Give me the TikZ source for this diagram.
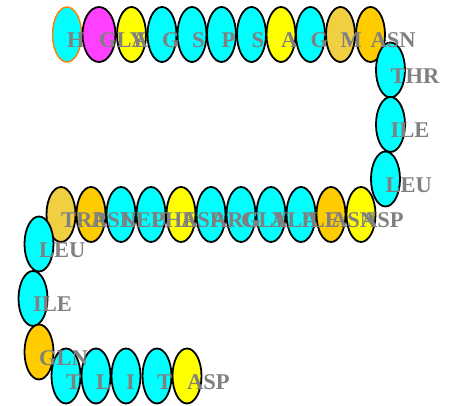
\documentclass[tikz,border=0pt]{standalone}
\usepackage{fontspec}
\setmainfont{Liberation Serif}
\usetikzlibrary{shapes.geometric}
\definecolor{rescyan}{HTML}{00FFFF}
\definecolor{resmag}{HTML}{FF40FF}
\definecolor{resyel}{HTML}{FFFF00}
\definecolor{resgold}{HTML}{FFCC00}
\definecolor{reswheat}{HTML}{F0D040}
\definecolor{resorange}{HTML}{FF8000}
\definecolor{labgray}{HTML}{808080}
\tikzset{
  res/.style={ellipse, draw=black, line width=1.8pt, minimum width=29pt, minimum height=55pt, inner sep=0pt},
  lab/.style={anchor=base west, inner sep=0pt, text=labgray, font=\fontsize{22.5}{22.5}\selectfont\bfseries},
}
\begin{document}
\begin{tikzpicture}[x=1pt,y=-1pt]
\useasboundingbox (0,0) rectangle (451,406);
% top row
\node[res, fill=rescyan, draw=resorange, line width=1.4pt] (r1) at (67,34.5) {};
\node[res, fill=resmag, minimum width=33pt] (r2) at (99,34.5) {};
\node[res, fill=resyel] (r3) at (131.5,34.5) {};
\node[res, fill=rescyan] (r4) at (162,34.5) {};
\node[res, fill=rescyan] (r5) at (192,34.5) {};
\node[res, fill=rescyan] (r6) at (221.5,34.5) {};
\node[res, fill=rescyan] (r7) at (251.5,34.5) {};
\node[res, fill=resyel] (r8) at (281,34.5) {};
\node[res, fill=rescyan] (r9) at (310.5,34.5) {};
\node[res, fill=reswheat] (r10) at (340.5,34.5) {};
\node[res, fill=resgold] (r11) at (370.5,34.5) {};
% right column
\node[res, fill=rescyan] (r12) at (390.5,70) {};
\node[res, fill=rescyan] (r13) at (390.5,124.5) {};
\node[res, fill=rescyan] (r14) at (385.5,179) {};
% middle row
\node[res, fill=resyel] (r15) at (361,214.5) {};
\node[res, fill=resgold] (r16) at (331,214.5) {};
\node[res, fill=rescyan] (r17) at (301,214.5) {};
\node[res, fill=rescyan] (r18) at (271,214.5) {};
\node[res, fill=rescyan] (r19) at (241,214.5) {};
\node[res, fill=rescyan] (r20) at (211,214.5) {};
\node[res, fill=resyel] (r21) at (181,214.5) {};
\node[res, fill=rescyan] (r22) at (151,214.5) {};
\node[res, fill=rescyan] (r23) at (121,214.5) {};
\node[res, fill=resgold] (r24) at (91,214.5) {};
\node[res, fill=reswheat] (r25) at (61,214.5) {};
% left column
\node[res, fill=rescyan] (r26) at (39,244) {};
\node[res, fill=rescyan] (r27) at (33,298.5) {};
\node[res, fill=resgold] (r28) at (39,352) {};
% bottom row
\node[res, fill=rescyan] (r29) at (66,376) {};
\node[res, fill=rescyan] (r30) at (96,376) {};
\node[res, fill=rescyan] (r31) at (126,376) {};
\node[res, fill=rescyan] (r32) at (157,376) {};
\node[res, fill=resyel] (r33) at (187,376) {};
% labels
\foreach \n/\t in {1/H,2/GLY,3/A,4/G,5/S,6/P,7/S,8/A,9/G,10/M,11/ASN,
  12/THR,13/ILE,14/LEU,15/ASP,16/ASN,17/ILE,18/ALA,19/GLY,20/ARG,21/ASP,22/PHE,23/LEU,24/ASN,25/TRP,
  26/LEU,27/ILE,28/GLN,29/T,30/L,31/I,32/T,33/ASP}
  \node[lab] (l\n) at ([yshift=-13.5pt]r\n.center) {\t};
\end{tikzpicture}
\end{document}
